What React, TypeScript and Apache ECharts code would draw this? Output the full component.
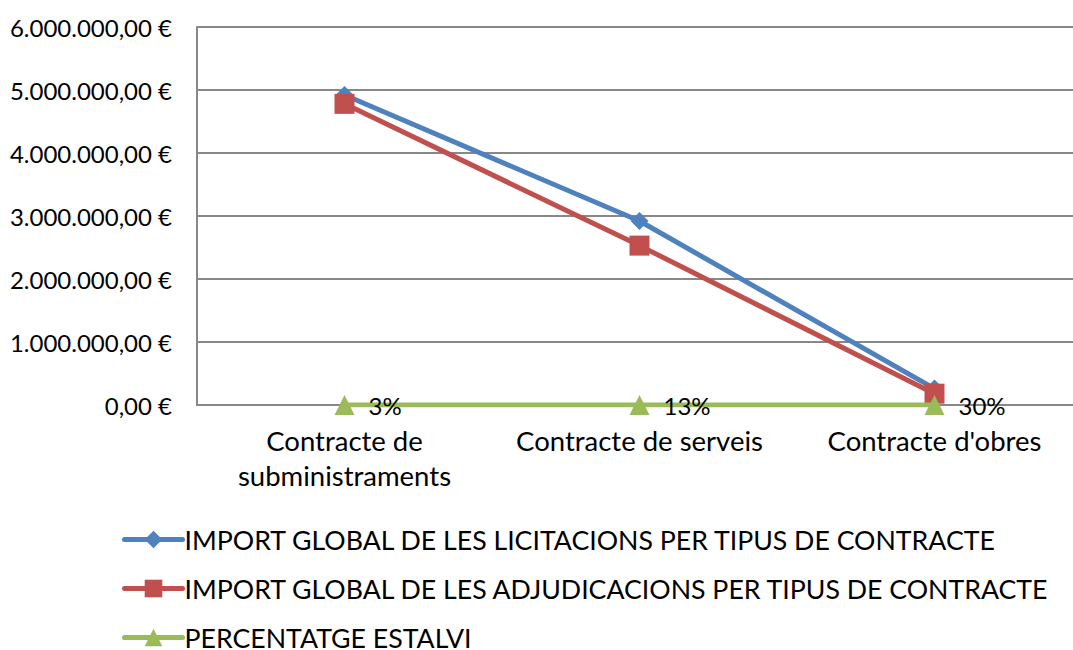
import React, { useEffect, useRef } from "react";
import * as echarts from "echarts";

const categories = ["Contracte de\nsubministraments", "Contracte de serveis", "Contracte d'obres"];
const licitacions = [4920000, 2920000, 260000];
const adjudicacions = [4780000, 2530000, 180000];
const estalvi = [0.03, 0.13, 0.3];
const seriesNames = [
  "IMPORT GLOBAL DE LES LICITACIONS PER TIPUS DE CONTRACTE",
  "IMPORT GLOBAL DE LES ADJUDICACIONS PER TIPUS DE CONTRACTE",
  "PERCENTATGE ESTALVI",
];

const FONT = "Lato";

function fmtEuro(v: number): string {
  const s = Math.round(v).toString().replace(/\B(?=(\d{3})+(?!\d))/g, ".");
  return s + ",00 €";
}

export default function App() {
  const ref = useRef<HTMLDivElement>(null);
  useEffect(() => {
    if (!ref.current) return;
    const chart = echarts.init(ref.current, undefined, { renderer: "svg" });
    chart.setOption({
      animation: false,
      textStyle: { fontFamily: FONT },
      grid: {
        left: 197,
        width: 885,
        top: 27,
        height: 378,
        containLabel: false,
        outerBoundsMode: "none",
      },
      xAxis: {
        type: "category",
        data: categories,
        boundaryGap: true,
        axisLine: { lineStyle: { color: "#888888", width: 2 } },
        axisTick: { show: false },
        axisLabel: {
          color: "#000",
          fontSize: 27.5,
          fontFamily: FONT,
          margin: 18,
          lineHeight: 35,
          interval: 0,
          hideOverlap: false,
        },
      },
      yAxis: {
        type: "value",
        min: 0,
        max: 6000000,
        interval: 1000000,
        axisLine: { show: true, lineStyle: { color: "#888888", width: 2 } },
        axisTick: { show: false },
        splitLine: { lineStyle: { color: "#888888", width: 2 } },
        axisLabel: {
          color: "#000",
          fontSize: 24,
          fontFamily: FONT,
          margin: 25,
          formatter: (v: number) => fmtEuro(v),
        },
      },
      legend: {
        orient: "vertical",
        left: 122,
        top: 526,
        height: 200,
        padding: 0,
        itemWidth: 58,
        itemHeight: 22,
        itemGap: 22,
        lineStyle: { width: 5, cap: "round" },
        textStyle: {
          color: "#000",
          fontSize: 26.7,
          fontFamily: FONT,
          lineHeight: 22,
          padding: [0, 0, 0, -3],
        },
        data: seriesNames,
      },
      series: [
        {
          name: seriesNames[0],
          type: "line",
          data: licitacions,
          symbol: "diamond",
          symbolSize: 18,
          itemStyle: { color: "#4F81BD" },
          lineStyle: { color: "#4F81BD", width: 5 },
          z: 3,
        },
        {
          name: seriesNames[1],
          type: "line",
          data: adjudicacions,
          symbol: "rect",
          symbolSize: 20,
          itemStyle: { color: "#C0504D" },
          lineStyle: { color: "#C0504D", width: 5 },
          z: 4,
        },
        {
          name: seriesNames[2],
          type: "line",
          data: estalvi,
          symbol: "triangle",
          symbolSize: 20,
          itemStyle: { color: "#9BBB59" },
          lineStyle: { color: "#9BBB59", width: 5 },
          z: 5,
          label: {
            show: true,
            position: "right",
            distance: 14,
            color: "#000",
            fontSize: 24,
            fontFamily: FONT,
            formatter: (p: any) => Math.round(p.value * 100) + "%",
          },
        },
      ],
    });
    return () => chart.dispose();
  }, []);
  return <div ref={ref} style={{ width: 1073, height: 650, position: "absolute", left: 0, top: 0 }} />;
}
